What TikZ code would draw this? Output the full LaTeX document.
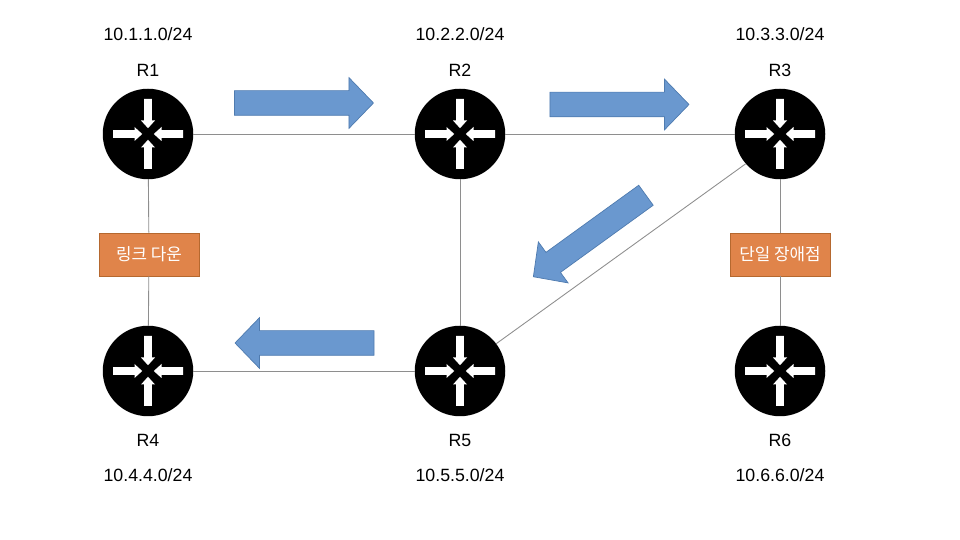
\documentclass[tikz,border=0pt]{standalone}
\usepackage{fontspec}
\setmainfont{Liberation Sans}
\newfontfamily\krfont{Noto Sans CJK KR}
\usetikzlibrary{shapes.arrows}
\definecolor{flow}{HTML}{6A98CF}
\definecolor{flowedge}{HTML}{4F7BAF}
\definecolor{fail}{HTML}{E0844A}
\definecolor{failedge}{HTML}{B5682F}
\definecolor{wire}{HTML}{8E8E8E}
\tikzset{
  router/.style={circle, fill=black, minimum size=1.81cm, inner sep=0pt, outer sep=0pt},
  link/.style={wire, line width=0.5pt},
  flowarr/.style={single arrow, fill=flow, draw=flowedge, line width=0.4pt, inner xsep=0pt, inner ysep=0.24cm,
    minimum height=2.78cm, minimum width=1cm, single arrow head extend=0.26cm,
    single arrow tip angle=92},
  failbox/.style={fill=fail, draw=failedge, line width=0.5pt, minimum width=2cm, minimum height=0.86cm,
    inner sep=0pt, text=white, font=\krfont\fontsize{9.6}{12}\selectfont},
  lab/.style={font=\fontsize{10.1}{12}\selectfont, inner sep=0pt},
  inarrow/.pic={\fill[white] (-0.077,0.70) -- (0.077,0.70) -- (0.077,0.27) -- (0.14,0.27)
    -- (0,0.115) -- (-0.14,0.27) -- (-0.077,0.27) -- cycle;},
}
\begin{document}
\begin{tikzpicture}[x=1cm,y=1cm]
\useasboundingbox (0,0) rectangle (19.2,10.8);

% ============ routers with their labels ================
\foreach \r/\x/\y/\t/\nm/\u/\v in {r1/2.96/8.12/R1/10.1.1.0/1.27/2.0, r2/9.2/8.12/R2/10.2.2.0/1.27/2.0, r3/15.6/8.12/R3/10.3.3.0/1.27/2.0,
    r4/2.96/3.38/R4/10.4.4.0/-1.39/-2.09, r5/9.2/3.38/R5/10.5.5.0/-1.39/-2.09, r6/15.6/3.38/R6/10.6.6.0/-1.39/-2.09}{
  \node[router] (\r) at (\x,\y) {};
  \foreach \a in {0,90,180,270}
    \path (\r) pic[rotate=\a] {inarrow};
  \node[lab] (\r name) at (\x,\y+\u) {\t};
  \node[lab] (\r net) at (\x,\y+\v) {\nm/24};
}

% ============ failure boxes ================
\node[failbox] (down) at (2.98,5.71) {링크 다운};
\node[failbox] (spof) at (15.6,5.71) {단일 장애점};

% ============ links ================
\draw[link] (r1) -- (r2);
\draw[link] (r2) -- (r3);
\draw[link] (r4) -- (r5);
\draw[link] (r2) -- (r5);
\draw[link] (r1) -- (down);
\draw[link] (down) -- (r4);
\draw[link] (r3) -- (spof);
\draw[link] (spof) -- (r6);
\draw[link] (r3.221) -- (r5.37);

% ============ traffic direction ================
\node[flowarr] (flowa) at (5.96,8.74) {};
\node[flowarr] (flowb) at (12.27,8.71) {};
\node[flowarr, rotate=215.9] (flowc) at (11.89,6.15) {};
\node[flowarr, rotate=180] (flowd) at (6.21,3.94) {};

\end{tikzpicture}
\end{document}
